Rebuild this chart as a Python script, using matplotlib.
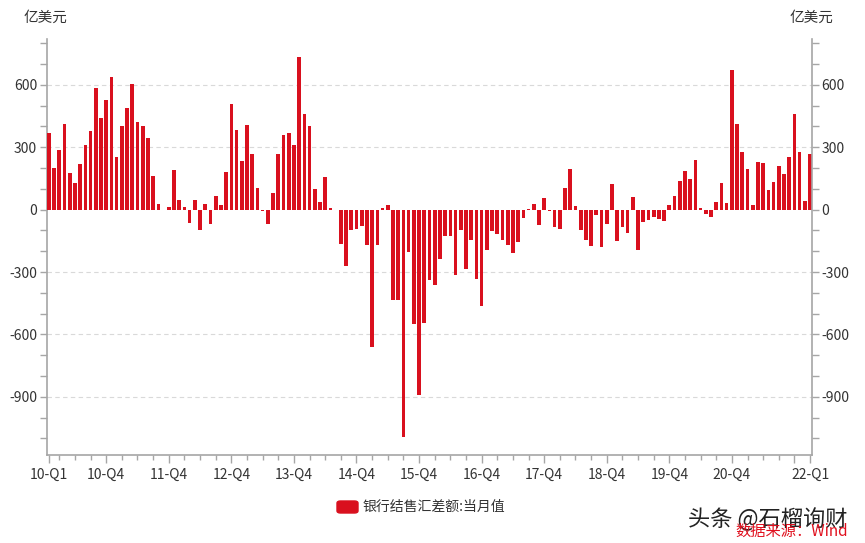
import matplotlib
matplotlib.use("Agg")
import matplotlib.pyplot as plt
from matplotlib.ticker import FixedLocator, MultipleLocator
import numpy as np

plt.rcParams['font.family'] = ['Noto Sans CJK SC', 'DejaVu Sans']
plt.rcParams['axes.unicode_minus'] = False

# 银行结售汇差额:当月值 (亿美元), 2010-01 .. 2022-03
values = [
    368, 198, 287, 413, 177, 129, 218, 313, 376, 585, 440, 529,      # 2010
    639, 252, 403, 489, 605, 419, 403, 344, 163, 26, -3, 13,         # 2011
    190, 48, 13, -66, 45, -99, 27, -70, 65, 24, 181, 510,            # 2012
    381, 232, 406, 269, 102, -5, -70, 82, 269, 360, 368, 311,        # 2013
    735, 460, 403, 97, 39, 155, 10, -3, -164, -273, -99, -91,        # 2014
    -80, -172, -661, -172, 10, 21, -436, -436, -1091, -204, -549, -893,  # 2015
    -545, -340, -364, -236, -125, -128, -316, -96, -286, -148, -335, -462,  # 2016
    -192, -103, -115, -148, -168, -209, -156, -38, 3, 27, -75, 58,   # 2017
    -7, -83, -91, 106, 194, 18, -96, -148, -173, -27, -180, -71,     # 2018
    121, -151, -83, -111, 61, -192, -59, -51, -35, -43, -55, 21,     # 2019
    65, 140, 185, 148, 239, 8, -19, -35, 39, 129, 32, 669,           # 2020
    410, 279, 197, 23, 229, 223, 94, 135, 211, 171, 252, 461,        # 2021
    277, 42, 268,                                                    # 2022
]
major_pos = [0, 11, 23, 35, 47, 59, 71, 83, 95, 107, 119, 131, 143, 146]
major_labels = ['10-Q1', '10-Q4', '11-Q4', '12-Q4', '13-Q4', '14-Q4', '15-Q4',
                '16-Q4', '17-Q4', '18-Q4', '19-Q4', '20-Q4', '', '22-Q1']
y_major = [-900, -600, -300, 0, 300, 600]

bar_color = '#D9101E'
axis_color = '#A6A6A6'
text_color = '#333333'

fig = plt.figure(figsize=(8.65, 5.43), dpi=100)
ax = fig.add_axes([0.0543, 0.162, 0.8844, 0.766])

x = np.arange(len(values))
ax.bar(x, values, width=0.7, color=bar_color, zorder=3)

ax.set_xlim(-0.36, len(values) - 0.64)
ax.set_ylim(-1180, 820)

for v in y_major:
    if v != 0:
        ax.axhline(v, color='#D9D9D9', lw=0.8, ls=(0, (4, 3)), zorder=1)

# x axis ticks
ax.xaxis.set_major_locator(FixedLocator(major_pos))
ax.set_xticklabels(major_labels)
minor_pos = [i for i in range(2, len(values), 3) if i not in major_pos]
ax.xaxis.set_minor_locator(FixedLocator(minor_pos))
ax.tick_params(axis='x', which='major', length=6, width=1, color=axis_color,
               labelsize=10, labelcolor=text_color, pad=3)
ax.tick_params(axis='x', which='minor', length=3.5, width=1, color=axis_color)

# y axes (left and right identical)
ax2 = ax.twinx()
ax2.set_ylim(ax.get_ylim())
for a, side in ((ax, 'left'), (ax2, 'right')):
    a.yaxis.set_major_locator(FixedLocator(y_major))
    a.yaxis.set_minor_locator(MultipleLocator(100))
    a.tick_params(axis='y', which='major', length=5, width=1, color=axis_color,
                  labelsize=10, labelcolor=text_color, pad=2)
    a.tick_params(axis='y', which='minor', length=5, width=1, color=axis_color)
    for s in a.spines.values():
        s.set_visible(False)
ax.spines['left'].set_visible(True)
ax.spines['bottom'].set_visible(True)
ax2.spines['right'].set_visible(True)
for s in (ax.spines['left'], ax.spines['bottom'], ax2.spines['right']):
    s.set_color(axis_color)
    s.set_linewidth(1.2)

fig.text(24 / 865, 1 - 18 / 543, '亿美元', fontsize=10.5, color=text_color,
         ha='left', va='center')
fig.text(790 / 865, 1 - 18 / 543, '亿美元', fontsize=10.5, color=text_color,
         ha='left', va='center')

# legend
fig.patches.append(matplotlib.patches.FancyBboxPatch(
    (337 / 865, 1 - 513 / 543), 21 / 865, 12 / 543,
    boxstyle='round,pad=0,rounding_size=0.004', transform=fig.transFigure,
    color=bar_color, figure=fig))
fig.text(363 / 865, 1 - 507 / 543, '银行结售汇差额:当月值', fontsize=10,
         color=text_color, ha='left', va='center')

# watermark + source (they overlap in the original as well)
fig.text(848 / 865, 1 - 519 / 543, '头条 @石榴询财', fontsize=16,
         color='#222222', ha='right', va='center')
fig.text(848 / 865, 1 - 531 / 543, '数据来源：Wind', fontsize=11,
         color='#E0101E', ha='right', va='center')

fig.savefig('out.png', dpi=100)
